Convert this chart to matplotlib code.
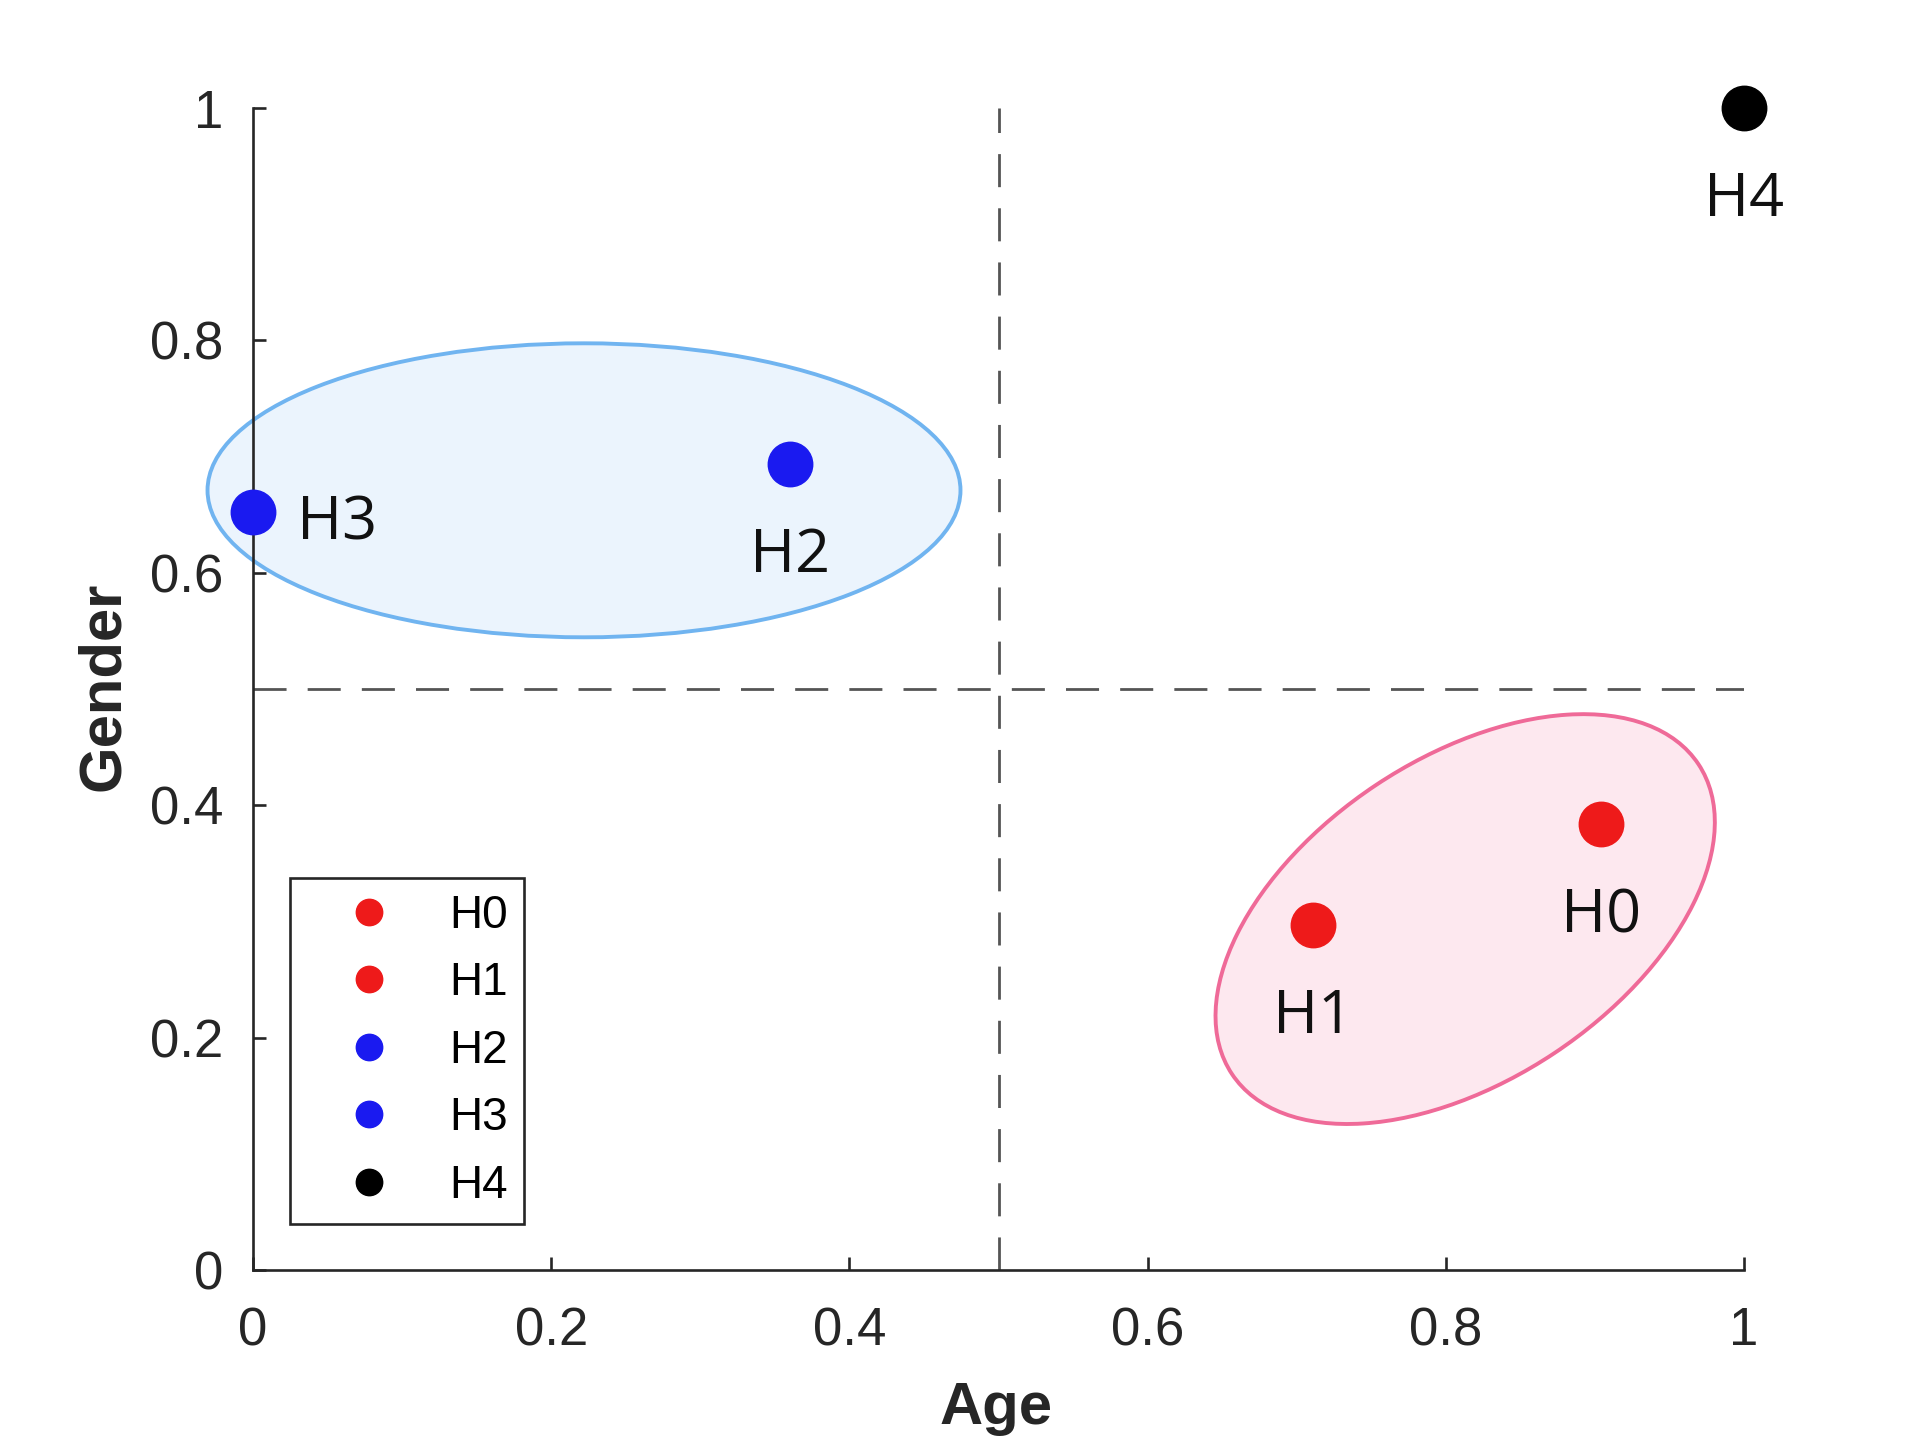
import matplotlib
matplotlib.use('Agg')
import matplotlib.pyplot as plt
from matplotlib.patches import Ellipse
from matplotlib.transforms import ScaledTranslation, IdentityTransform

# ---- data ----
names = ['H0', 'H1', 'H2', 'H3', 'H4']
age = [0.904, 0.711, 0.360, 0.0, 1.0]
gender = [0.384, 0.297, 0.694, 0.652, 1.0]
point_colors = ['#EE1A1A', '#EE1A1A', '#1A1AF0', '#1A1AF0', '#000000']
xticks = [0, 0.2, 0.4, 0.6, 0.8, 1]
xticklabels = ['0', '0.2', '0.4', '0.6', '0.8', '1']
yticks = [0, 0.2, 0.4, 0.6, 0.8, 1]
yticklabels = ['0', '0.2', '0.4', '0.6', '0.8', '1']
age_threshold = 0.5
gender_threshold = 0.5
blue_group_center = (0.222, 0.671)
pink_group_center = (0.813, 0.302)

W, H = 1925, 1444
fig = plt.figure(figsize=(W / 100, H / 100), dpi=100)
ax = fig.add_axes([253 / W, 1 - 1270 / H, (1744 - 253) / W, (1270 - 108) / H])
ax.set_xlim(0, 1)
ax.set_ylim(0, 1)

dark = '#262626'
tick_font = 'Liberation Sans'
lab_font = ['Open Sans', 'DejaVu Sans']

# threshold dashed lines
dash_kw = dict(color='#555555', lw=2.0, dashes=(11.9, 7.6), zorder=1)
ax.axhline(gender_threshold, **dash_kw)
ax.axvline(age_threshold, **dash_kw)

# group ellipses
blue_ell = Ellipse(blue_group_center, width=0.505, height=0.253,
                   facecolor='#EBF4FD', edgecolor='#70B4F0', lw=2.8,
                   zorder=2, clip_on=False)
ax.add_patch(blue_ell)
pink_ell = Ellipse((0, 0), width=2 * 280, height=2 * 161, angle=33.6,
                   facecolor='#FDE8EF', edgecolor='#EF6A98', lw=2.8, zorder=2,
                   clip_on=False,
                   transform=IdentityTransform() + ScaledTranslation(
                       pink_group_center[0], pink_group_center[1], ax.transData))
ax.add_patch(pink_ell)

# points
for n, x, y, c in zip(names, age, gender, point_colors):
    ax.plot([x], [y], 'o', ms=32, color=c, mec=c, label=n, zorder=4,
            clip_on=False, linestyle='none')

# point labels
label_offsets = {'H0': (0, -78, 'center'), 'H1': (0, -78, 'center'),
                 'H2': (0, -78, 'center'), 'H3': (32, -19.5, 'left'),
                 'H4': (0, -78, 'center')}
for n, x, y in zip(names, age, gender):
    dx, dy, ha = label_offsets[n]
    ax.annotate(n, (x, y), xytext=(dx, dy), textcoords='offset points',
                ha=ha, va='baseline', fontsize=44, family=lab_font,
                color='#111111', zorder=5, annotation_clip=False)

# axes styling
for s in ['top', 'right']:
    ax.spines[s].set_visible(False)
for s in ['left', 'bottom']:
    ax.spines[s].set_color(dark)
    ax.spines[s].set_linewidth(1.9)
    ax.spines[s].set_zorder(3)
ax.set_xticks(xticks)
ax.set_xticklabels(xticklabels, family=tick_font, fontsize=38, color=dark)
ax.set_yticks(yticks)
ax.set_yticklabels(yticklabels, family=tick_font, fontsize=38, color=dark)
ax.tick_params(axis='both', direction='in', length=9.5, width=1.9, color=dark)
ax.tick_params(axis='x', pad=26)
ax.tick_params(axis='y', pad=21.6)

ax.set_xlabel('Age', family=tick_font, fontsize=43, fontweight='bold', color=dark)
ax.xaxis.set_label_coords((996 - 253) / 1491, (1270 - 1424) / 1162)
ax.xaxis.label.set_va('baseline')
ax.set_ylabel('Gender', family=tick_font, fontsize=43, fontweight='bold', color=dark)
ax.yaxis.set_label_coords((104 - 253) / 1491, (1270 - 686) / 1162)
ax.yaxis.label.set_va('center')

leg = ax.legend(loc='upper left',
                bbox_to_anchor=((290 - 253) / 1491, (1270 - 878) / 1162),
                borderaxespad=0, frameon=True, fancybox=False,
                edgecolor=dark, framealpha=1,
                prop={'family': tick_font, 'size': 33},
                markerscale=19 / 32, handlelength=2.74, handletextpad=0.39,
                borderpad=0.35, labelspacing=0.51, numpoints=1)
leg.get_frame().set_linewidth(1.9)
leg.set_zorder(6)

fig.savefig('out.png', dpi=100, facecolor='white')
